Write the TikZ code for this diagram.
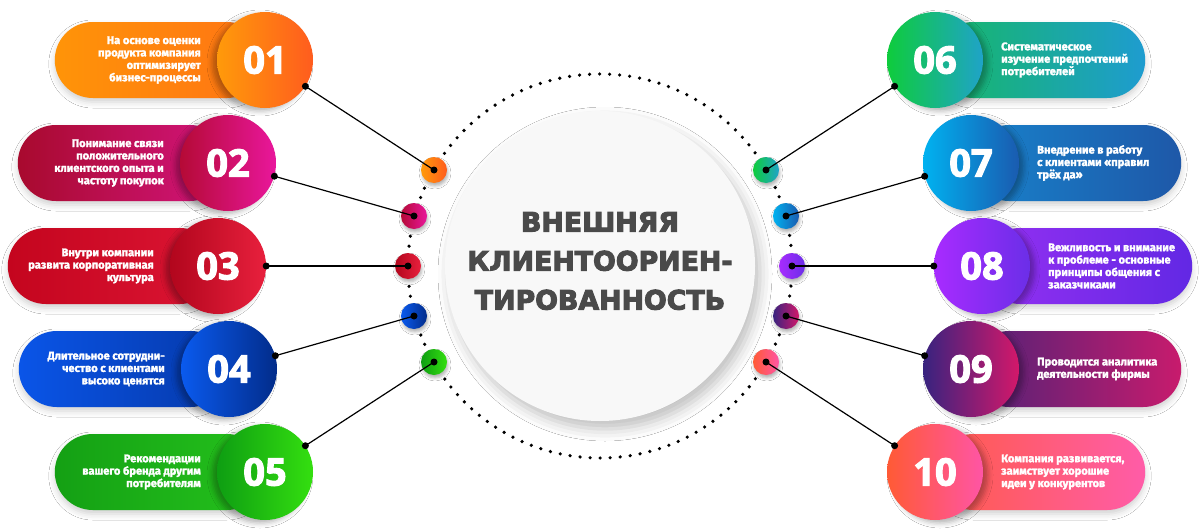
\documentclass[tikz,border=0pt]{standalone}
\usepackage{fontspec}
\setmainfont{Fira Sans}
\newfontfamily\numfont{Open Sans}
\newfontfamily\titlefont{DejaVu Sans}
\usetikzlibrary{shadows.blur}

% heavier text: fill + stroke rendering
\newcommand\heavy[2]{\special{pdf:literal direct #1 w 2 Tr}#2\special{pdf:literal direct 0 Tr 0.4 w}}

% pill colours (left -> right) and circle colours (left -> right)
\definecolor{p1l}{HTML}{FF9408}\definecolor{p1r}{HTML}{FF7314}
\definecolor{c1l}{HTML}{FF9A0A}\definecolor{c1r}{HTML}{FF5C1E}
\definecolor{p2l}{HTML}{A80A2E}\definecolor{p2r}{HTML}{D4157E}
\definecolor{c2l}{HTML}{B50A36}\definecolor{c2r}{HTML}{E9179C}
\definecolor{p3l}{HTML}{C4051E}\definecolor{p3r}{HTML}{DC1534}
\definecolor{c3l}{HTML}{B2061D}\definecolor{c3r}{HTML}{E8203D}
\definecolor{p4l}{HTML}{0A55E8}\definecolor{p4r}{HTML}{0538A8}
\definecolor{c4l}{HTML}{0A5AEE}\definecolor{c4r}{HTML}{022C8A}
\definecolor{p5l}{HTML}{14A014}\definecolor{p5r}{HTML}{25C21C}
\definecolor{c5l}{HTML}{0E9E12}\definecolor{c5r}{HTML}{34DF10}
\definecolor{p6l}{HTML}{16B865}\definecolor{p6r}{HTML}{1E9CD0}
\definecolor{c6l}{HTML}{0ECC3C}\definecolor{c6r}{HTML}{1FA3C8}
\definecolor{p7l}{HTML}{1882CB}\definecolor{p7r}{HTML}{1E58A8}
\definecolor{c7l}{HTML}{00B2F0}\definecolor{c7r}{HTML}{1A5BB0}
\definecolor{p8l}{HTML}{9530F2}\definecolor{p8r}{HTML}{6228E4}
\definecolor{c8l}{HTML}{A82BFF}\definecolor{c8r}{HTML}{6B2EE8}
\definecolor{p9l}{HTML}{4F2277}\definecolor{p9r}{HTML}{C81B6D}
\definecolor{c9l}{HTML}{38237F}\definecolor{c9r}{HTML}{D3186A}
\definecolor{p10l}{HTML}{FF5B4A}\definecolor{p10r}{HTML}{FF5CA8}
\definecolor{c10l}{HTML}{FF5A35}\definecolor{c10r}{HTML}{FF55A5}
\definecolor{titlegray}{HTML}{4A4A4A}
\definecolor{hubfill}{HTML}{F8F8F8}

\newcommand\leftitem[5]{%
  \node[pill, left color=p#1l, right color=p#1r, anchor=east] (p#1) at (#2,#3) {};
  \node[desc, align=right, anchor=east] (t#1) at (#2-64,#3) {\heavy{0.25}{#4}};
  \node[numcircle, left color=c#1l, right color=c#1r,
        blur shadow={shadow xshift=-5pt, shadow yshift=-3pt, shadow blur radius=5pt, shadow opacity=30}] (c#1) at (#2,#3) {\heavy{1.1}{#5}};
}
\newcommand\rightitem[5]{%
  \node[pill, left color=p#1l, right color=p#1r, anchor=west] (p#1) at (#2,#3) {};
  \node[desc, align=left, anchor=west] (t#1) at (#2+66,#3) {\heavy{0.25}{#4}};
  \node[numcircle, left color=c#1l, right color=c#1r,
        blur shadow={shadow xshift=5pt, shadow yshift=-3pt, shadow blur radius=5pt, shadow opacity=30}] (c#1) at (#2,#3) {\heavy{1.1}{#5}};
}
\newcommand\smalldot[3]{%
  \node[dotc, left color=c#1l, right color=c#1r] (s#1) at (#2,#3) {};
}
\newcommand\link[1]{%
  \draw[conn] (c#1) -- (s#1.center)
     node[bdot, pos=0] (da#1) {} node[bdot, pos=1] (db#1) {};
}

\begin{document}
\begin{tikzpicture}[x=1pt, y=-1pt,
  pill/.style={rectangle, rounded corners=38pt, minimum height=76pt, minimum width=210pt,
               inner sep=0pt, draw=none,
               blur shadow={shadow xshift=0pt, shadow yshift=-4pt, shadow blur radius=6pt, shadow opacity=18}},
  numcircle/.style={circle, minimum size=96pt, inner sep=0pt, text=white,
               font=\numfont\bfseries\fontsize{38}{38}\selectfont},
  desc/.style={text=white, inner sep=0pt, font=\bfseries\fontsize{11.1}{12.4}\selectfont},
  dotc/.style={circle, minimum size=26pt, inner sep=0pt,
               blur shadow={shadow xshift=1pt, shadow yshift=-3pt, shadow blur radius=3pt, shadow opacity=30}},
  bdot/.style={circle, fill=black, minimum size=7pt, inner sep=0pt},
  conn/.style={draw=black, line width=1.2pt},
  dotring/.style={draw=black, line width=3.6pt, line cap=round, dash pattern=on 0pt off 10.05pt},
  hub/.style={circle, minimum size=310pt, inner sep=0pt, fill=hubfill,
              blur shadow={shadow xshift=5pt, shadow yshift=-8pt, shadow blur radius=12pt, shadow opacity=25}},
  title/.style={align=center, text=titlegray, font=\titlefont\bfseries\fontsize{26.8}{39}\selectfont}
]
\useasboundingbox[fill=white] (0,0) rectangle (1200,530);

% dotted ring and hub
\draw[dotring] (600,266) circle[radius=192];
\node[hub] (hubc) at (600,266) {};
\node[title] (ttl) at (600,261) {\heavy{1.0}{ВНЕШНЯЯ\\КЛИЕНТООРИЕН-\\ТИРОВАННОСТЬ}};

% left items
\leftitem{1}{265}{60}{На основе оценки\\продукта компания\\оптимизирует\\бизнес-процессы}{01}
\leftitem{2}{228}{163}{Понимание связи\\положительного\\клиентского опыта и\\частоту покупок}{02}
\leftitem{3}{218}{266}{Внутри компании\\развита корпоративная\\культура}{03}
\leftitem{4}{229}{369}{Длительное сотрудни-\\чество с клиентами\\высоко ценятся}{04}
\leftitem{5}{265}{472}{Рекомендации\\вашего бренда другим\\потребителям}{05}

% right items
\rightitem{6}{935}{60}{Систематическое\\изучение предпочтений\\потребителей}{06}
\rightitem{7}{971}{163}{Внедрение в работу\\с клиентами «правил\\трёх да»}{07}
\rightitem{8}{982}{266}{Вежливость и внимание\\к проблеме - основные\\принципы общения с\\заказчиками}{08}
\rightitem{9}{971}{369}{Проводится аналитика\\деятельности фирмы}{09}
\rightitem{10}{935}{472}{Компания развивается,\\заимствует хорошие\\идеи у конкурентов}{10}

% small dots on the ring
\smalldot{1}{434}{170}
\smalldot{2}{414}{216}
\smalldot{3}{408}{266}
\smalldot{4}{414}{316}
\smalldot{5}{434}{362}
\smalldot{6}{766}{170}
\smalldot{7}{786}{216}
\smalldot{8}{792}{266}
\smalldot{9}{786}{316}
\smalldot{10}{766}{362}

% connectors
\link{1}\link{2}\link{3}\link{4}\link{5}
\link{6}\link{7}\link{8}\link{9}\link{10}
\end{tikzpicture}
\end{document}
